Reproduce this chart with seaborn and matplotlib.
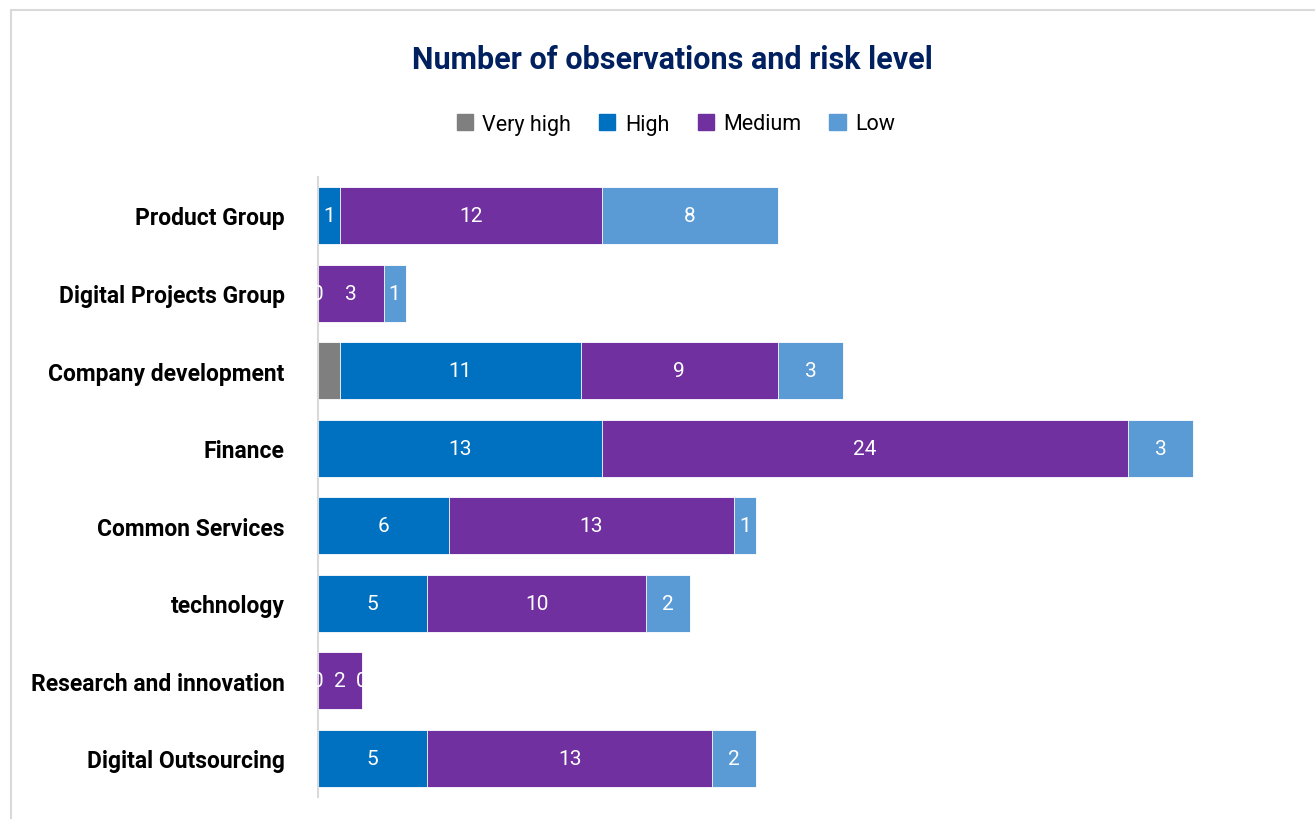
import matplotlib
matplotlib.use("Agg")
import matplotlib.pyplot as plt
import seaborn as sns
import numpy as np
import pandas as pd

# data
categories = ["Product Group", "Digital Projects Group", "Company development", "Finance",
              "Common Services", "technology", "Research and innovation", "Digital Outsourcing"]
very_high = [0, 0, 1, 0, 0, 0, 0, 0]
high = [1, 0, 11, 13, 6, 5, 0, 5]
medium = [12, 3, 9, 24, 13, 10, 2, 13]
low = [8, 1, 3, 3, 1, 2, 0, 2]

series_names = ["Very high", "High", "Medium", "Low"]
colors = ["#7F7F7F", "#0070C0", "#7030A0", "#5B9BD5"]

sns.set_style("white")
plt.rcParams["font.family"] = ["Roboto", "DejaVu Sans"]

df = pd.DataFrame({"cat": categories, "Very high": very_high, "High": high,
                   "Medium": medium, "Low": low})
cum = df[series_names].cumsum(axis=1)

fig = plt.figure(figsize=(13.15, 8.2), dpi=100)
ax = fig.add_axes([0.2418, 0.0265, 0.739, 0.7568])

# stacked bars: draw cumulative totals, largest first
for name, col in reversed(list(zip(series_names, colors))):
    sns.barplot(x=cum[name], y=df["cat"], orient="h", color=col, width=0.735,
                saturation=1, edgecolor="white", linewidth=0.6, ax=ax)

# data labels (Very high has none in the original)
for name in ["High", "Medium", "Low"]:
    start = cum[name] - df[name]
    for i, (s, v) in enumerate(zip(start, df[name])):
        ax.text(s + v / 2, i, str(v), color="white", ha="center", va="center",
                fontsize=15)

ax.set_xlim(0, 44.4)
ax.set_ylim(7.5, -0.5)
ax.set_xlabel("")
ax.set_ylabel("")
ax.set_xticks([])
ax.tick_params(axis="y", length=0, pad=24)
for lab in ax.get_yticklabels():
    lab.set_fontweight("bold")
    lab.set_fontsize(16.5)
    lab.set_color("black")
for sp in ["top", "right", "bottom"]:
    ax.spines[sp].set_visible(False)
ax.spines["left"].set_color("#D9D9D9")
ax.spines["left"].set_linewidth(1.5)

handles = [plt.Rectangle((0, 0), 1, 1, color=c) for c in colors]
fig.legend(handles, series_names, loc="center", bbox_to_anchor=(0.514, 1 - 125 / 820),
           ncol=4, frameon=False, fontsize=15.5, handlelength=0.75, handleheight=0.75,
           handletextpad=0.45, columnspacing=1.3, labelcolor="black")

fig.text(0.511, 1 - 60 / 820, "Number of observations and risk level", ha="center",
         va="center", fontsize=22, fontweight="bold", color="#002060")

# outer chart border (only top and left visible in the crop)
fig.add_artist(plt.Line2D([11 / 1315, 11 / 1315], [0, 1 - 11 / 820], color="#D9D9D9", lw=1.5))
fig.add_artist(plt.Line2D([11 / 1315, 1], [1 - 11 / 820, 1 - 11 / 820], color="#D9D9D9", lw=1.5))

fig.savefig("out.png", dpi=100)
